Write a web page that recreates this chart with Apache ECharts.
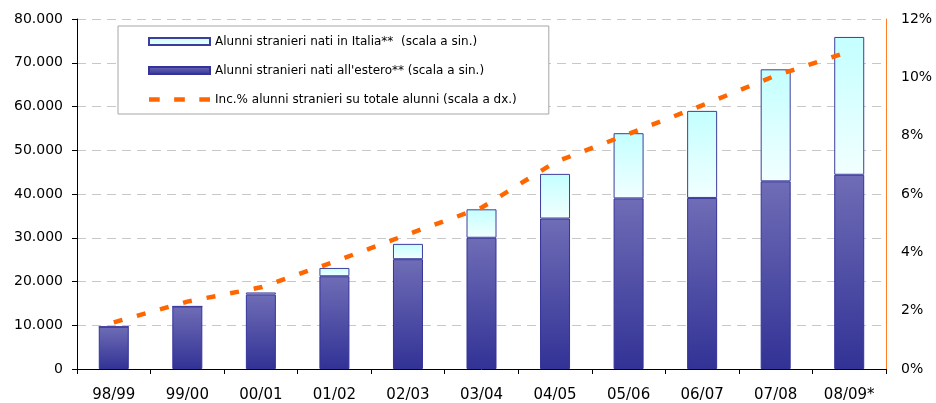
<!DOCTYPE html>
<html>
<head>
<meta charset="utf-8">
<script src="https://cdn.jsdelivr.net/npm/echarts@6/dist/echarts.min.js"></script>
<style>html,body{margin:0;padding:0;background:#fff;}#c{width:936px;height:403px;}</style>
</head>
<body>
<div id="c"></div>
<script>
var categories = ['98/99','99/00','00/01','01/02','02/03','03/04','04/05','05/06','06/07','07/08','08/09*'];
var natiEstero = [9650, 14300, 17000, 21200, 25100, 30000, 34400, 39000, 39100, 42900, 44400];
var natiItalia = [0, 0, 500, 1900, 3500, 6500, 10200, 14900, 19900, 25600, 31500];
var incidenza = [1.6, 2.31, 2.8, 3.68, 4.62, 5.53, 7.09, 8.06, 9.04, 10.06, 10.88];
var leftTicks = {min: 0, max: 80000, interval: 10000};
var rightTicks = {min: 0, max: 12, interval: 2};
var names = ['Alunni stranieri nati in Italia**  (scala a sin.)',
             "Alunni stranieri nati all'estero** (scala a sin.)",
             'Inc.% alunni stranieri su totale alunni (scala a dx.)'];

var font = 'DejaVu Sans';
var dashIcon = 'path://M0,0h10v4h-10z M23.5,0h10v4h-10z M47,0h10v4h-10z';
var chart = echarts.init(document.getElementById('c'), null, {renderer: 'canvas'});
chart.setOption({
  animation: false,
  backgroundColor: '#ffffff',
  textStyle: {fontFamily: font},
  grid: {left: 77, right: 50, top: 19, bottom: 33, containLabel: false},
  legend: {
    orient: 'vertical',
    left: 118, top: 26,
    padding: [8, 32, 7, 30],
    itemGap: 14,
    itemWidth: 61, itemHeight: 7,
    borderColor: '#a6a6a6', borderWidth: 1,
    backgroundColor: '#ffffff',
    textStyle: {fontFamily: font, fontSize: 12, color: '#000', lineHeight: 15},
    data: [
      {name: names[0], icon: 'rect'},
      {name: names[1], icon: 'rect'},
      {name: names[2], icon: dashIcon, itemStyle: {color: '#ff6600', borderWidth: 0}}
    ]
  },
  xAxis: {
    type: 'category',
    data: categories,
    boundaryGap: true,
    axisLine: {lineStyle: {color: '#000', width: 1}},
    axisTick: {show: true, alignWithLabel: false, length: 5, lineStyle: {color: '#000'}},
    axisLabel: {fontFamily: font, fontSize: 15, color: '#000', margin: 19}
  },
  yAxis: [{
    type: 'value',
    min: leftTicks.min, max: leftTicks.max, interval: leftTicks.interval,
    axisLine: {show: true, lineStyle: {color: '#000', width: 1}},
    axisTick: {show: true, length: 5, lineStyle: {color: '#000'}},
    axisLabel: {fontFamily: font, fontSize: 14, color: '#000', margin: 14,
      formatter: function (v) { return v === 0 ? '0' : String(v).replace(/\B(?=(\d{3})+(?!\d))/g, '.'); }},
    splitLine: {show: true, lineStyle: {color: '#c8c8c8', type: [9, 6], width: 1}}
  }, {
    type: 'value',
    position: 'right',
    min: rightTicks.min, max: rightTicks.max, interval: rightTicks.interval,
    axisLine: {show: true, lineStyle: {color: '#ff7f27', width: 1}},
    axisTick: {show: false},
    axisLabel: {fontFamily: font, fontSize: 14, color: '#000', margin: 15, formatter: '{value}%'},
    splitLine: {show: false}
  }],
  series: [{
    name: names[1],
    type: 'bar',
    stack: 'tot',
    barWidth: 30,
    data: natiEstero,
    itemStyle: {
      color: new echarts.graphic.LinearGradient(0, 0, 0, 1, [
        {offset: 0, color: '#6f6db6'}, {offset: 1, color: '#323296'}]),
      borderColor: '#333399', borderWidth: 1
    },
    z: 2
  }, {
    name: names[0],
    type: 'bar',
    stack: 'tot',
    barWidth: 30,
    data: natiItalia,
    itemStyle: {
      color: new echarts.graphic.LinearGradient(0, 0, 0, 1, [
        {offset: 0, color: '#c4ffff'}, {offset: 1, color: '#f2ffff'}]),
      borderColor: '#3d3d9e', borderWidth: 1
    },
    z: 2
  }, {
    name: names[2],
    type: 'line',
    yAxisIndex: 1,
    data: incidenza,
    symbol: 'none',
    smooth: false,
    lineStyle: {color: '#ff6600', width: 4.5, type: [9, 15], cap: 'butt', join: 'miter'},
    itemStyle: {color: '#ff6600'},
    z: 5
  }]
});
</script>
</body>
</html>
